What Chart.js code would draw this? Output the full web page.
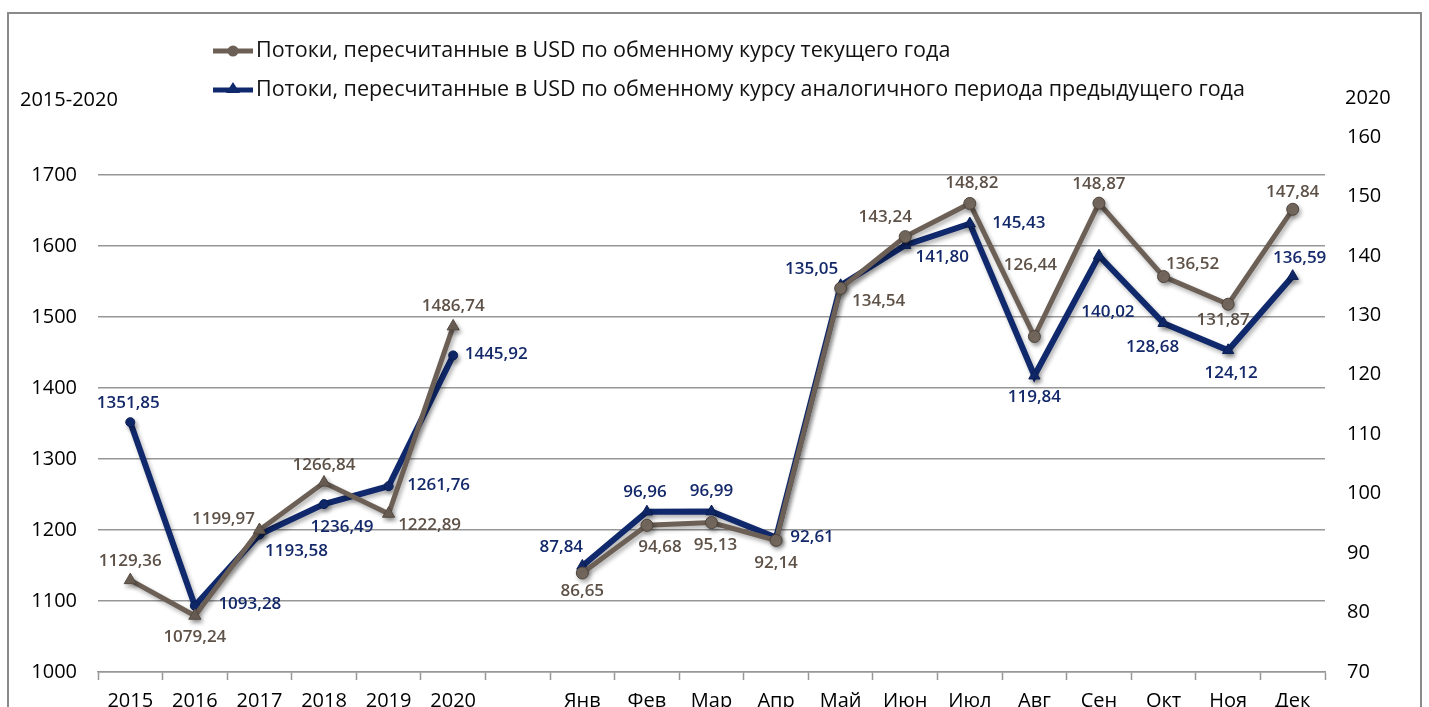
<!DOCTYPE html>
<html>
<head>
<meta charset="utf-8">
<script src="https://cdn.jsdelivr.net/npm/chart.js@4"></script>
<style>
  html, body { margin: 0; padding: 0; background: #fff; overflow: hidden; }
  canvas { display: block; }
</style>
</head>
<body>
<canvas id="flows" width="1429" height="745"></canvas>
<script>
// categories: years, one empty slot, then months of 2020
var yearLabels = ['2015', '2016', '2017', '2018', '2019', '2020'];
var monthLabels = ['Янв', 'Фев', 'Мар', 'Апр', 'Май', 'Июн', 'Июл', 'Авг', 'Сен', 'Окт', 'Ноя', 'Дек'];

// values, left axis (2015-2020)
var yearsCurrent = [1129.36, 1079.24, 1199.97, 1266.84, 1222.89, 1486.74];
var yearsPrevious = [1351.85, 1093.28, 1193.58, 1236.49, 1261.76, 1445.92];

// values, right axis (2020 by month)
var monthsCurrent = [86.65, 94.68, 95.13, 92.14, 134.54, 143.24, 148.82, 126.44, 148.87, 136.52, 131.87, 147.84];
var monthsPrevious = [87.84, 96.96, 96.99, 92.61, 135.05, 141.80, 145.43, 119.84, 140.02, 128.68, 124.12, 136.59];

var seriesNames = [
  'Потоки, пересчитанные в USD по обменному курсу текущего года',
  'Потоки, пересчитанные в USD по обменному курсу аналогичного периода предыдущего года'
];

// where each value label sits relative to its point (dx, dy)
var yearsCurrentLbl = [[0, -19], [0, 21], [-36, -11], [0, -17], [41, 11], [0, -20]];
var yearsPreviousLbl = [[-2, -19], [55, -2], [37, 17], [18, 23], [50, -1], [43, -1]];
var monthsCurrentLbl = [[0, 18], [13, 22], [4, 23], [0, 23], [38, 13], [-20, -19], [2, -20], [-4, -71], [0, -19], [29, -12], [-5, 16], [0, -17]];
var monthsPreviousLbl = [[-21, -19], [-2, -20], [0, -20], [36, 0], [-29, -16], [37, 12], [49, 0], [0, 21], [9, 56], [-11, 24], [3, 23], [7, -18]];

var FONT = "'Open Sans', 'DejaVu Sans', sans-serif";
var BROWN = '#6c6056';
var BLUE = '#10296c';
var GRID = '#979797';

var labels = yearLabels.concat([''], monthLabels);

function nulls(n) { var a = []; for (var i = 0; i < n; i++) a.push(null); return a; }
function yearPart(arr) { return arr.concat(nulls(1 + monthLabels.length)); }
function monthPart(arr) { return nulls(yearLabels.length + 1).concat(arr); }

// frame + axis captions + custom legend (line with marker in the middle)
var decor = {
  id: 'decor',
  beforeDraw: function(chart) {
    var ctx = chart.ctx;
    ctx.save();
    ctx.fillStyle = '#fff';
    ctx.fillRect(0, 0, chart.width, chart.height);
    ctx.strokeStyle = '#8a8a8a';
    ctx.lineWidth = 2;
    ctx.strokeRect(8, 13, 1413, 800);
    ctx.restore();
  },
  afterDraw: function(chart) {
    var ctx = chart.ctx;
    ctx.save();
    ctx.fillStyle = '#000';
    ctx.font = '20px ' + FONT;
    ctx.textBaseline = 'middle';
    ctx.textAlign = 'left';
    ctx.fillText('2015-2020', 20, 100);
    ctx.fillText('2020', chart.scales.y2.left + 20, 98);

    var rows = [
      { y: 51, color: BROWN, style: 'circle', text: seriesNames[0] },
      { y: 90, color: BLUE, style: 'triangle', text: seriesNames[1] }
    ];
    rows.forEach(function(r) {
      ctx.strokeStyle = r.color;
      ctx.lineWidth = 5;
      ctx.beginPath();
      ctx.moveTo(213, r.y);
      ctx.lineTo(253, r.y);
      ctx.stroke();
      ctx.fillStyle = r.color;
      ctx.beginPath();
      if (r.style === 'circle') {
        ctx.arc(233, r.y, 5.5, 0, Math.PI * 2);
      } else {
        ctx.moveTo(233, r.y - 8);
        ctx.lineTo(240, r.y + 3);
        ctx.lineTo(226, r.y + 3);
        ctx.closePath();
      }
      ctx.fill();
      ctx.fillStyle = '#111';
      ctx.font = '21.5px ' + FONT;
      ctx.fillText(r.text, 256, r.y);
    });
    ctx.restore();
  }
};

// soft shadow under the lines, then value labels
var valueLabels = {
  id: 'valueLabels',
  beforeDatasetsDraw: function(chart) {
    var ctx = chart.ctx;
    ctx.save();
    ctx.shadowColor = 'rgba(0,0,0,0.3)';
    ctx.shadowBlur = 4;
    ctx.shadowOffsetX = 2;
    ctx.shadowOffsetY = 3;
  },
  afterDatasetsDraw: function(chart) {
    var ctx = chart.ctx;
    ctx.restore();
    ctx.save();
    ctx.textAlign = 'center';
    ctx.textBaseline = 'middle';
    ctx.font = '600 17px ' + FONT;
    chart.data.datasets.forEach(function(ds, di) {
      var meta = chart.getDatasetMeta(di);
      ctx.fillStyle = ds.labelColor;
      meta.data.forEach(function(pt, i) {
        var v = ds.data[i];
        if (v === null) return;
        var off = ds.labelOffsets[i];
        ctx.fillText(v.toFixed(2).replace('.', ','), pt.x + off[0], pt.y + off[1]);
      });
    });
    ctx.restore();
  }
};

function tickFont() { return { family: FONT, size: 20 }; }
function plainNumber(v) { return String(v); }

new Chart(document.getElementById('flows'), {
  type: 'line',
  data: {
    labels: labels,
    datasets: [
      {
        label: seriesNames[0],
        data: yearPart(yearsCurrent),
        labelOffsets: yearPart(yearsCurrentLbl),
        labelColor: '#5d5148',
        yAxisID: 'y',
        borderColor: BROWN, backgroundColor: BROWN,
        borderWidth: 5, pointStyle: 'triangle', pointRadius: 7,
        pointBorderColor: '#554a42', pointBorderWidth: 1,
        tension: 0, spanGaps: false
      },
      {
        label: seriesNames[1],
        data: yearPart(yearsPrevious),
        labelOffsets: yearPart(yearsPreviousLbl),
        labelColor: '#14296a',
        yAxisID: 'y',
        borderColor: BLUE, backgroundColor: BLUE,
        borderWidth: 6, pointStyle: 'circle', pointRadius: 4.5,
        pointBorderColor: '#0a1f55', pointBorderWidth: 1,
        tension: 0, spanGaps: false
      },
      {
        label: seriesNames[0],
        data: monthPart(monthsCurrent),
        labelOffsets: monthPart(monthsCurrentLbl),
        labelColor: '#5d5148',
        yAxisID: 'y2',
        borderColor: BROWN, backgroundColor: '#75695f',
        borderWidth: 5, pointStyle: 'circle', pointRadius: 6,
        pointBorderColor: '#4e443c', pointBorderWidth: 1,
        tension: 0, spanGaps: false
      },
      {
        label: seriesNames[1],
        data: monthPart(monthsPrevious),
        labelOffsets: monthPart(monthsPreviousLbl),
        labelColor: '#14296a',
        yAxisID: 'y2',
        borderColor: BLUE, backgroundColor: BLUE,
        borderWidth: 6, pointStyle: 'triangle', pointRadius: 6.5,
        pointBorderColor: '#0a1f55', pointBorderWidth: 1,
        tension: 0, spanGaps: false
      }
    ]
  },
  options: {
    responsive: false,
    animation: false,
    events: [],
    layout: { padding: { top: 137, left: 0, right: 0, bottom: 0 } },
    plugins: {
      legend: { display: false },
      tooltip: { enabled: false }
    },
    scales: {
      x: {
        type: 'category',
        offset: true,
        grid: { offset: true, drawOnChartArea: false, drawTicks: true, tickLength: 8, tickColor: GRID, tickWidth: 1.5 },
        border: { display: true, color: GRID, width: 1.5 },
        ticks: { autoSkip: false, maxRotation: 0, padding: 9, color: '#000', font: tickFont() },
        afterFit: function(s) { s.height = 745 - 672; }
      },
      y: {
        position: 'left',
        min: 1000,
        max: 1753.5,
        ticks: { stepSize: 100, padding: 21, color: '#000', font: tickFont(), callback: plainNumber },
        afterBuildTicks: function(s) {
          s.ticks = s.ticks.filter(function(t) { return t.value % 100 === 0; });
        },
        grid: { color: GRID, lineWidth: 1.5, drawTicks: false },
        border: { display: false },
        afterFit: function(s) { s.width = 98; }
      },
      y2: {
        position: 'right',
        min: 70,
        max: 160,
        ticks: { stepSize: 10, padding: 22, color: '#000', font: tickFont(), callback: plainNumber },
        grid: { drawOnChartArea: false, drawTicks: false },
        border: { display: false },
        afterFit: function(s) { s.width = 1429 - 1325; }
      }
    }
  },
  plugins: [decor, valueLabels]
});
</script>
</body>
</html>
